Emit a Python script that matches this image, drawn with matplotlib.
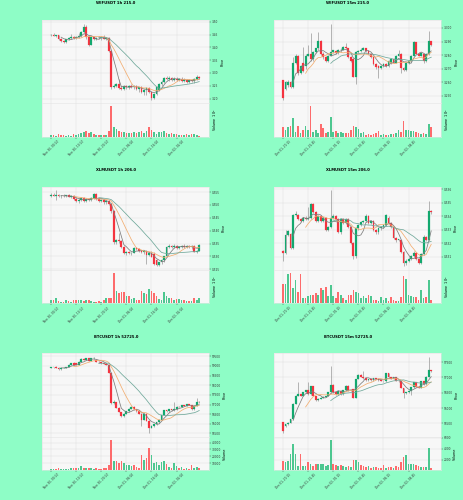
import numpy as np
import pandas as pd
import matplotlib
matplotlib.use("Agg")
import matplotlib.pyplot as plt
from matplotlib.ticker import MultipleLocator, FormatStrFormatter

# ---------------- data ----------------
titles = ["WIFUSDT 1h 215.0", "WIFUSDT 15m 215.0",
          "XLMUSDT 1h 206.0", "XLMUSDT 15m 206.0",
          "BTCUSDT 1h 52725.0", "BTCUSDT 15m 52725.0"]

xlabels_1h = ["Nov 30, 00:00", "Nov 30, 10:00", "Nov 30, 20:00",
              "Dec 01, 06:00", "Dec 01, 16:00", "Dec 02, 02:00"]
xlabels_15m = ["Dec 01, 20:15", "Dec 01, 22:45", "Dec 02, 01:15",
               "Dec 02, 03:45", "Dec 02, 06:15", "Dec 02, 08:45"]

# WIF 1h
wif1h_o = [3.448,3.450,3.446,3.447,3.432,3.424,3.421,3.432,3.436,3.440,3.438,3.442,3.444,3.458,3.480,3.440,3.410,3.440,3.434,3.438,
           3.436,3.440,3.434,3.437,3.384,3.246,3.250,3.258,3.240,3.238,3.248,3.244,3.249,3.246,3.250,3.236,3.244,3.226,3.232,3.240,
           3.224,3.204,3.218,3.232,3.258,3.266,3.280,3.276,3.282,3.274,3.278,3.272,3.278,3.270,3.274,3.266,3.272,3.268,3.276,3.286]
wif1h_h = [3.452,3.455,3.450,3.449,3.436,3.430,3.434,3.440,3.452,3.446,3.444,3.455,3.462,3.492,3.486,3.448,3.445,3.446,3.442,3.446,
           3.444,3.448,3.442,3.440,3.390,3.256,3.262,3.276,3.250,3.252,3.254,3.252,3.258,3.252,3.254,3.246,3.250,3.238,3.246,3.244,
           3.230,3.222,3.250,3.262,3.272,3.286,3.290,3.288,3.286,3.284,3.284,3.282,3.284,3.280,3.278,3.276,3.278,3.280,3.292,3.290]
wif1h_l = [3.444,3.445,3.440,3.430,3.420,3.418,3.418,3.428,3.432,3.434,3.433,3.438,3.440,3.455,3.432,3.405,3.408,3.430,3.428,3.432,
           3.430,3.432,3.428,3.380,3.238,3.240,3.244,3.236,3.232,3.234,3.238,3.236,3.240,3.238,3.232,3.226,3.220,3.214,3.212,3.220,
           3.196,3.198,3.214,3.228,3.250,3.262,3.272,3.270,3.270,3.268,3.270,3.268,3.266,3.266,3.262,3.262,3.264,3.262,3.272,3.276]
wif1h_c = [3.450,3.446,3.447,3.432,3.424,3.421,3.432,3.436,3.440,3.438,3.442,3.444,3.458,3.480,3.440,3.410,3.440,3.434,3.438,3.436,
           3.440,3.434,3.437,3.384,3.246,3.250,3.258,3.240,3.238,3.248,3.244,3.249,3.246,3.250,3.236,3.244,3.226,3.232,3.240,3.224,
           3.204,3.218,3.246,3.258,3.266,3.280,3.276,3.282,3.274,3.278,3.272,3.278,3.270,3.274,3.266,3.272,3.268,3.276,3.286,3.280]
wif1h_v = [5,4,3,7,4,4,3,4,3,6, 5,6,9,11,13,8,10,6,5,4, 4,4,5,13,62,20,16,12,11,10,
           9,8,9,10,8,11,13,9,12,20, 14,10,7,10,11,12,9,7,8,6, 6,5,5,4,6,5,7,6,5,3]

# WIF 15m
wif15_o = [3.2613,3.2550,3.2576,3.2602,3.2563,3.2745,3.2790,3.2667,3.2745,3.2719,3.2797,3.2810,3.2771,3.2823,3.2849,3.2901,3.2810,3.2784,3.2758,3.2797,
           3.2823,3.2831,3.2818,3.2836,3.2841,3.2862,3.2849,3.2784,3.2771,3.2641,3.2823,3.2831,3.2841,3.2849,3.2831,3.2810,3.2784,3.2732,3.2719,3.2706,
           3.2719,3.2732,3.2719,3.2745,3.2771,3.2745,3.2797,3.2810,3.2706,3.2693,3.2745,3.2758,3.2797,3.2893,3.2810,3.2797,3.2810,3.2758,3.2810,3.2901]
wif15_h = [3.2620,3.2610,3.2615,3.2612,3.2784,3.2805,3.2800,3.2725,3.2862,3.2805,3.2875,3.2966,3.2830,3.2855,3.2971,3.2910,3.2820,3.2795,3.2800,3.3031,
           3.2840,3.2840,3.2845,3.2850,3.2870,3.2888,3.2855,3.2790,3.2780,3.2830,3.2840,3.2850,3.2860,3.2855,3.2838,3.2815,3.2790,3.2740,3.2725,3.2725,
           3.2740,3.2740,3.2765,3.2780,3.2778,3.2800,3.2836,3.2815,3.2712,3.2750,3.2765,3.2800,3.2905,3.2900,3.2820,3.2820,3.2818,3.2815,3.2979,3.2905]
wif15_l = [3.2472,3.2540,3.2565,3.2555,3.2555,3.2735,3.2655,3.2660,3.2675,3.2700,3.2790,3.2760,3.2760,3.2815,3.2840,3.2800,3.2770,3.2750,3.2750,3.2790,
           3.2815,3.2810,3.2810,3.2825,3.2835,3.2845,3.2780,3.2750,3.2635,3.2589,3.2815,3.2825,3.2835,3.2825,3.2805,3.2780,3.2725,3.2700,3.2628,3.2695,
           3.2710,3.2710,3.2712,3.2738,3.2740,3.2740,3.2790,3.2667,3.2680,3.2685,3.2738,3.2750,3.2790,3.2805,3.2790,3.2790,3.2745,3.2750,3.2800,3.2865]
wif15_c = [3.2485,3.2602,3.2602,3.2563,3.2745,3.2797,3.2667,3.2719,3.2680,3.2797,3.2810,3.2771,3.2823,3.2849,3.2901,3.2810,3.2784,3.2758,3.2797,3.2823,
           3.2836,3.2818,3.2836,3.2841,3.2862,3.2849,3.2784,3.2758,3.2641,3.2823,3.2831,3.2841,3.2849,3.2831,3.2810,3.2784,3.2732,3.2711,3.2706,3.2719,
           3.2732,3.2719,3.2758,3.2771,3.2745,3.2797,3.2810,3.2706,3.2693,3.2745,3.2758,3.2797,3.2893,3.2810,3.2797,3.2815,3.2753,3.2810,3.2901,3.2875]
wif15_v = [2.2,1.5,2.2,2.5,4.0,1.2,2.5,1.0,1.5,2.5, 1.5,6.5,1.2,1.5,1.0,2.8,2.0,1.0,1.2,4.2,
           1.2,1.3,1.0,1.2,0.9,1.0,1.0,1.6,2.4,2.2, 1.8,1.0,1.1,0.6,0.8,0.6,0.8,1.0,1.3,0.5,
           0.8,0.5,0.6,0.7,0.8,1.0,1.5,1.2,3.5,1.5, 1.5,1.4,1.3,1.1,1.0,0.8,1.0,0.8,2.8,2.2]

# XLM 1h
xlm1h_o = [0.5536,0.5540,0.5536,0.5538,0.5533,0.5536,0.5533,0.5537,0.5532,0.5534,0.5522,0.5514,0.5520,0.5526,0.5516,0.5524,0.5518,0.5526,0.5542,0.5522,
           0.5516,0.5520,0.5510,0.5514,0.5503,0.5475,0.5356,0.5364,0.5358,0.5338,0.5312,0.5316,0.5312,0.5315,0.5332,0.5328,0.5320,0.5318,0.5322,0.5306,
           0.5315,0.5310,0.5285,0.5267,0.5278,0.5286,0.5300,0.5338,0.5341,0.5338,0.5342,0.5334,0.5336,0.5340,0.5337,0.5341,0.5336,0.5340,0.5319,0.5323]
xlm1h_h = [0.5545,0.5548,0.5556,0.5542,0.5540,0.5542,0.5540,0.5541,0.5538,0.5537,0.5530,0.5525,0.5530,0.5530,0.5528,0.5528,0.5530,0.5548,0.5545,0.5528,
           0.5524,0.5524,0.5518,0.5520,0.5507,0.5480,0.5368,0.5390,0.5362,0.5342,0.5322,0.5320,0.5318,0.5336,0.5338,0.5332,0.5326,0.5325,0.5326,0.5318,
           0.5320,0.5316,0.5290,0.5280,0.5290,0.5302,0.5342,0.5348,0.5346,0.5350,0.5346,0.5340,0.5344,0.5348,0.5345,0.5346,0.5344,0.5344,0.5326,0.5350]
xlm1h_l = [0.5530,0.5533,0.5520,0.5530,0.5528,0.5530,0.5529,0.5530,0.5526,0.5518,0.5510,0.5508,0.5515,0.5512,0.5512,0.5514,0.5515,0.5522,0.5518,0.5512,
           0.5510,0.5505,0.5502,0.5500,0.5470,0.5350,0.5350,0.5352,0.5334,0.5308,0.5306,0.5308,0.5306,0.5312,0.5325,0.5316,0.5312,0.5310,0.5270,0.5302,
           0.5296,0.5268,0.5262,0.5262,0.5272,0.5280,0.5296,0.5332,0.5334,0.5334,0.5330,0.5328,0.5332,0.5334,0.5332,0.5334,0.5330,0.5316,0.5312,0.5320]
xlm1h_c = [0.5540,0.5536,0.5538,0.5533,0.5536,0.5533,0.5537,0.5532,0.5534,0.5522,0.5514,0.5520,0.5526,0.5516,0.5524,0.5518,0.5526,0.5542,0.5522,0.5516,
           0.5520,0.5510,0.5514,0.5503,0.5475,0.5356,0.5364,0.5358,0.5338,0.5312,0.5316,0.5312,0.5315,0.5332,0.5328,0.5320,0.5318,0.5322,0.5306,0.5315,
           0.5299,0.5272,0.5267,0.5278,0.5286,0.5300,0.5338,0.5341,0.5338,0.5342,0.5334,0.5336,0.5340,0.5337,0.5341,0.5336,0.5340,0.5319,0.5323,0.5345]
xlm1h_v = [5,5,9,4,3,3,5,4,3,6, 6,6,5,4,5,5,4,3,3,4, 3,5,9,8,9,44,18,15,17,17,
           11,11,7,9,6,5,19,15,14,21, 19,15,11,7,6,17,12,8,8,6, 7,7,5,6,4,4,4,9,5,8]

# XLM 15m
xlm15_o = [0.53142,0.53131,0.53265,0.53270,0.53168,0.53410,0.53410,0.53378,0.53364,0.53391,0.53378,0.53391,0.53490,0.53431,0.53364,0.53404,0.53364,0.53391,0.53302,0.53324,
           0.53391,0.53404,0.53382,0.53284,0.53378,0.53351,0.53378,0.53324,0.53203,0.53104,0.53311,0.53337,0.53356,0.53364,0.53404,0.53351,0.53364,0.53297,0.53284,0.53311,
           0.53324,0.53337,0.53391,0.53351,0.53324,0.53238,0.53222,0.53222,0.53136,0.53051,0.53069,0.53083,0.53104,0.53131,0.53083,0.53056,0.53123,0.53249,0.53222,0.53437]
xlm15_h = [0.53150,0.53297,0.53300,0.53280,0.53420,0.53440,0.53418,0.53385,0.53395,0.53400,0.53471,0.53500,0.53500,0.53440,0.53410,0.53410,0.53395,0.53395,0.53330,0.53592,
           0.53415,0.53410,0.53390,0.53385,0.53385,0.53385,0.53385,0.53330,0.53210,0.53320,0.53345,0.53365,0.53370,0.53415,0.53410,0.53370,0.53370,0.53305,0.53315,0.53330,
           0.53345,0.53420,0.53400,0.53360,0.53330,0.53245,0.53235,0.53228,0.53140,0.53080,0.53095,0.53110,0.53140,0.53135,0.53090,0.53130,0.53260,0.53255,0.53517,0.53450]
xlm15_l = [0.53069,0.53120,0.53255,0.53160,0.53160,0.53400,0.53370,0.53355,0.53355,0.53370,0.53370,0.53380,0.53425,0.53360,0.53355,0.53360,0.53355,0.53295,0.53295,0.53315,
           0.53380,0.53370,0.53275,0.53270,0.53340,0.53345,0.53315,0.53195,0.53083,0.53090,0.53300,0.53330,0.53350,0.53355,0.53345,0.53340,0.53290,0.53270,0.53270,0.53300,
           0.53315,0.53330,0.53345,0.53315,0.53230,0.53210,0.53215,0.53130,0.53030,0.53040,0.53060,0.53075,0.53095,0.53075,0.53050,0.53050,0.53115,0.53215,0.53215,0.53420]
xlm15_c = [0.53131,0.53265,0.53290,0.53168,0.53410,0.53418,0.53378,0.53364,0.53391,0.53378,0.53391,0.53490,0.53431,0.53364,0.53404,0.53364,0.53391,0.53302,0.53324,0.53391,
           0.53404,0.53382,0.53284,0.53378,0.53351,0.53378,0.53324,0.53203,0.53104,0.53311,0.53337,0.53356,0.53364,0.53404,0.53351,0.53364,0.53297,0.53284,0.53311,0.53324,
           0.53337,0.53410,0.53351,0.53324,0.53238,0.53222,0.53230,0.53136,0.53051,0.53069,0.53083,0.53104,0.53131,0.53083,0.53056,0.53123,0.53249,0.53222,0.53437,0.53431]
xlm15_v = [6.5,6.5,9.5,9.8,5.0,7.7,4.0,9.5,2.0,2.0, 2.5,2.8,3.0,3.5,3.0,5.0,4.5,5.3,2.5,6.2,
           2.5,2.0,4.0,3.0,2.0,1.5,3.0,3.0,4.5,4.0, 3.5,2.0,2.5,2.0,3.0,2.5,1.5,1.5,1.0,2.2,
           1.5,2.0,1.0,2.2,1.5,1.2,1.0,2.2,8.8,8.0, 3.0,2.5,2.2,2.2,1.5,4.5,2.0,2.2,7.6,1.5]

# BTC 1h
btc1h_o = [98920,98940,98950,98920,98820,98890,98910,98950,99060,99170,99140,99070,99230,99380,99320,99390,99280,99390,99320,99230,
           99190,99140,99100,99070,98650,97060,97120,96830,96610,96400,96520,96650,96790,96880,96760,96650,96520,96220,96520,96160,
           95800,95890,95980,96070,96220,96470,96700,96650,96760,96700,96760,96880,96870,96970,96940,97010,96980,96760,96940,97150]
btc1h_h = [98960,98970,98980,98940,98900,98930,98960,99080,99150,99190,99160,99240,99440,99400,99420,99410,99400,99460,99340,99250,
           99200,99160,99120,99090,98670,97240,97150,96850,96630,96540,96660,96800,96900,96900,96780,96670,96540,96540,96540,96180,
           95920,95990,96090,96230,96480,96720,96720,96770,96780,97150,96900,96920,96990,97000,97030,97030,97000,96960,97330,97170]
btc1h_l = [98900,98910,98900,98780,98800,98870,98890,98940,99040,99060,99050,99050,99210,99300,99300,99260,99260,99370,99200,99180,
           99120,99090,99030,98630,97040,97030,96800,96590,96380,96370,96500,96630,96770,96740,96630,96500,95890,96200,96140,95530,
           95760,95860,95950,96050,96200,96450,96630,96620,96690,96680,96740,96850,96850,96920,96920,96960,96740,96740,96920,97100]
btc1h_c = [98940,98950,98920,98820,98890,98910,98950,99060,99140,99070,99070,99230,99380,99320,99390,99280,99390,99430,99230,99190,
           99140,99100,99050,98650,97060,97120,96830,96610,96400,96520,96650,96790,96880,96760,96650,96520,96220,96520,96160,95800,
           95890,95980,96070,96220,96470,96700,96650,96760,96700,96760,96880,96870,96970,96940,97010,96980,96760,96940,97150,97120]
btc1h_v = [1500,2000,1800,3000,1500,1500,2000,2500,3000,4000, 3500,4000,6000,3500,3000,3500,3000,2500,3000,2500,
           2500,3000,4000,8000,44000,14000,13000,11000,14000,10000, 8000,8000,6000,7000,5000,4000,22000,15000,18000,32000,
           22000,10000,12000,8000,12000,13000,9000,5000,4000,10000, 6000,3000,5000,2500,3000,2500,8000,4000,5000,3000]

# BTC 15m
btc15_o = [95540,95409,95464,95519,95628,96146,96399,96454,96399,96509,96586,96454,96707,96399,96256,96311,96344,96366,96399,96509,
           96762,96520,96454,96564,96454,96586,96729,96586,96619,96344,96950,97082,97027,96972,96916,96950,96916,96983,96950,96916,
           96894,96872,97137,97005,96950,97005,96894,96872,96652,96476,96509,96564,96674,96839,96696,96652,96872,96784,97027,97247]
btc15_h = [95560,95480,95530,95640,96160,96420,96840,96470,96520,96600,96840,96720,96720,96410,96320,96350,96380,96410,96520,97390,
           96780,96540,96580,96580,96600,96740,96740,96610,96630,96960,97100,97110,97225,96990,96960,96960,96990,96995,96960,96930,
           96900,97150,97150,97020,97010,97020,96910,96890,96670,96520,96580,96690,96850,96850,96710,96880,96890,97040,97665,97260]
btc15_l = [95188,95390,95450,95500,95610,96130,96380,96390,96380,96490,96440,96440,96380,96230,96240,96300,96320,96350,96380,96500,
           96500,96440,96440,96440,96440,96570,96570,96570,96320,96330,96940,97010,96960,96900,96900,96900,96900,96940,96900,96880,
           96860,96860,96990,96940,96940,96880,96860,96640,96340,96460,96490,96440,96660,96690,96640,96640,96770,96770,97010,97190]
btc15_c = [95265,95464,95519,95628,96146,96399,96454,96399,96509,96586,96454,96707,96399,96256,96311,96344,96366,96399,96509,96762,
           96520,96454,96564,96454,96586,96729,96586,96597,96344,96950,97082,97027,96972,96916,96950,96916,96983,96950,96916,96894,
           96872,97137,97005,96950,97005,96894,96872,96652,96476,96509,96564,96674,96839,96696,96652,96872,96784,97027,97247,97203]
btc15_v = [1700,1500,1800,3000,4800,3100,900,3000,900,800, 1500,1200,900,1200,1300,1200,1200,900,1000,5600,
           1200,1100,800,1000,900,600,900,600,2000,2000, 1600,1000,800,600,800,500,600,600,500,500,
           1100,500,700,600,500,800,600,1500,2500,2900, 1300,1200,1200,1100,800,600,700,600,4100,400]

mav_windows = [5, 10, 20]

charts = [
    dict(o=wif1h_o, h=wif1h_h, l=wif1h_l, c=wif1h_c, v=wif1h_v, xl=xlabels_1h,
         pstep=0.05, pfmt="%.2f", vscale=1e5, vstep=20, vlabel="Volume  $10^{5}$"),
    dict(o=wif15_o, h=wif15_h, l=wif15_l, c=wif15_c, v=wif15_v, xl=xlabels_15m,
         pstep=0.01, pfmt="%.3f", vscale=1e6, vstep=2, vlabel="Volume  $10^{6}$"),
    dict(o=xlm1h_o, h=xlm1h_h, l=xlm1h_l, c=xlm1h_c, v=xlm1h_v, xl=xlabels_1h,
         pstep=0.005, pfmt="%.3f", vscale=1e6, vstep=10, vlabel="Volume  $10^{6}$"),
    dict(o=xlm15_o, h=xlm15_h, l=xlm15_l, c=xlm15_c, v=xlm15_v, xl=xlabels_15m,
         pstep=0.001, pfmt="%.3f", vscale=1e6, vstep=2, vlabel="Volume  $10^{6}$"),
    dict(o=btc1h_o, h=btc1h_h, l=btc1h_l, c=btc1h_c, v=btc1h_v, xl=xlabels_1h,
         pstep=500, pfmt="%.0f", vscale=1, vstep=10000, vlabel="Volume"),
    dict(o=btc15_o, h=btc15_h, l=btc15_l, c=btc15_c, v=btc15_v, xl=xlabels_15m,
         pstep=500, pfmt="%.0f", vscale=1, vstep=2000, vlabel="Volume"),
]

# ---------------- style ----------------
BG = "#8efdc6"
FACE = "#f7f7f7"
GRID = "#e0e0e0"
UP, DN = "#12a86e", "#f4333f"
VUP, VDN = "#4dc790", "#fd6b6c"
WICK = "#808080"
MAVC = ["#7d7d7d", "#f2ad70", "#6fa89a"]

W, H = 464.0, 500.0
CELL_W, CELL_H = 232.0, H / 3.0

fig = plt.figure(figsize=(4.64, 5.0), dpi=100)
fig.patch.set_facecolor(BG)


def rect(x0, y0, x1, y1):
    return [x0 / W, 1 - y1 / H, (x1 - x0) / W, (y1 - y0) / H]


def style_ax(ax):
    ax.set_facecolor(FACE)
    for s in ax.spines.values():
        s.set_color("#e4e4e4")
        s.set_linewidth(0.4)
    ax.grid(True, color=GRID, lw=0.35)
    ax.set_axisbelow(True)
    ax.yaxis.tick_right()
    ax.yaxis.set_label_position("right")
    ax.tick_params(axis="both", labelsize=2.1, length=1.2, width=0.3, pad=0.8,
                   colors="#333333")


for k, ch in enumerate(charts):
    r, cidx = divmod(k, 2)
    x0 = cidx * CELL_W
    y0 = r * CELL_H
    top = y0 + 20.0
    bot = y0 + 136.7
    mid = top + (bot - top) * 5.0 / 7.0

    o = np.array(ch["o"], float); hh = np.array(ch["h"], float)
    ll = np.array(ch["l"], float); cc = np.array(ch["c"], float)
    vv = np.array(ch["v"], float) / ch["vscale"]
    n = len(cc)
    x = np.arange(n)
    up = cc >= o

    axp = fig.add_axes(rect(x0 + 42, top, x0 + 209, mid))
    axv = fig.add_axes(rect(x0 + 42, mid, x0 + 209, bot), sharex=axp)
    style_ax(axp); style_ax(axv)

    axp.vlines(x, ll, hh, color=WICK, lw=0.4, zorder=2)
    axp.bar(x, np.abs(cc - o), bottom=np.minimum(o, cc), width=0.72,
            color=np.where(up, UP, DN), edgecolor=np.where(up, UP, DN),
            lw=0.15, zorder=3)
    s = pd.Series(cc)
    for w, col in zip(mav_windows, MAVC):
        axp.plot(x, s.rolling(w).mean(), color=col, lw=0.55, zorder=4)

    lo, hi = ll.min(), hh.max()
    pad = (hi - lo) * 0.05
    axp.set_ylim(lo - pad, hi + pad)
    axp.yaxis.set_major_locator(MultipleLocator(ch["pstep"]))
    axp.yaxis.set_major_formatter(FormatStrFormatter(ch["pfmt"]))
    axp.set_ylabel("Price", fontsize=2.4, labelpad=1.5)
    axp.tick_params(axis="x", labelbottom=False, length=0)

    axv.bar(x, vv, width=0.65, color=np.where(up, VUP, VDN), zorder=3)
    axv.set_ylim(0.3 * vv.min(), 1.1 * vv.max())
    axv.yaxis.set_major_locator(MultipleLocator(ch["vstep"]))
    axv.yaxis.set_major_formatter(FormatStrFormatter("%g"))
    axv.set_ylabel(ch["vlabel"], fontsize=2.4, labelpad=1.5)

    axv.set_xlim(-3.6, n + 2.9)
    axv.set_xticks(np.arange(0, n, 10))
    axv.set_xticklabels(ch["xl"], rotation=45, ha="center")

    fig.text((x0 + 116) / W, 1 - (y0 + 3.4) / H, titles[k], fontsize=2.7,
             fontweight="bold", ha="center", va="center")

fig.savefig("out.png", dpi=100, facecolor=BG)
